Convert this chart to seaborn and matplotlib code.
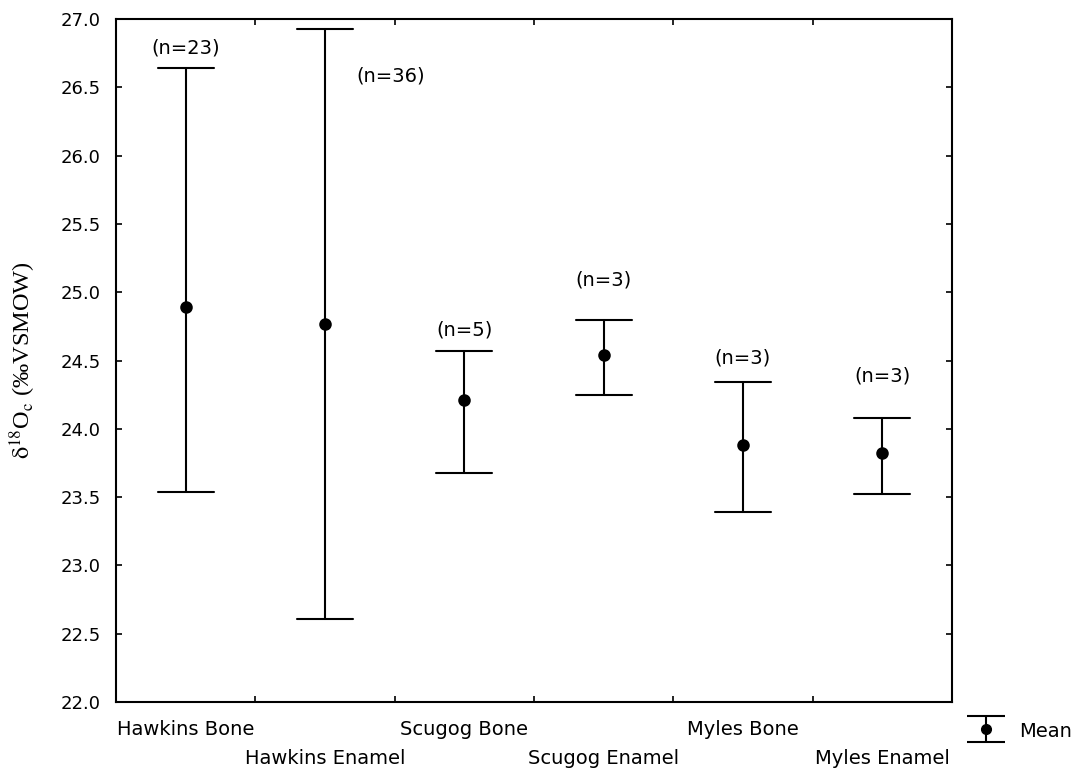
import numpy as np
import pandas as pd
import matplotlib
matplotlib.use('Agg')
import matplotlib.pyplot as plt
from matplotlib.container import ErrorbarContainer
from matplotlib.legend_handler import HandlerErrorbar
import seaborn as sns

# values
groups = ['Hawkins Bone', 'Hawkins Enamel', 'Scugog Bone',
          'Scugog Enamel', 'Myles Bone', 'Myles Enamel']
means = [24.89, 24.77, 24.21, 24.54, 23.88, 23.82]
lower = [23.535, 22.61, 23.68, 24.25, 23.39, 23.52]
upper = [26.64, 26.93, 24.57, 24.80, 24.345, 24.08]
n_text = ['(n=23)', '(n=36)', '(n=5)', '(n=3)', '(n=3)', '(n=3)']
# where the n labels sit (category offset, y value)
n_dx = [0, 0.47, 0, 0, 0, 0]
n_y = [26.79, 26.58, 24.72, 25.09, 24.52, 24.39]

# long form: low / mean / high per group -> median gives mean, min/max gives the bar
df = pd.DataFrame({
    'group': np.repeat(groups, 3),
    'd18O': np.column_stack([lower, means, upper]).ravel(),
})

sns.set_style('ticks')
plt.rcParams['font.family'] = ['DejaVu Sans']
plt.rcParams['mathtext.fontset'] = 'stix'
plt.rcParams['text.color'] = 'black'
plt.rcParams['axes.labelcolor'] = 'black'
plt.rcParams['xtick.color'] = 'black'
plt.rcParams['ytick.color'] = 'black'

fig = plt.figure(figsize=(10.91, 7.79), dpi=100)
ax = fig.add_axes([116/1091, 1 - 702/779, 836/1091, 683/779])

sns.pointplot(data=df, x='group', y='d18O', order=groups,
              estimator='median', errorbar=lambda v: (v.min(), v.max()),
              color='black', linestyle='none', markersize=7,
              capsize=0.4, err_kws={'linewidth': 1.5}, ax=ax)

for i, t in enumerate(n_text):
    ax.text(i + n_dx[i], n_y[i], t, ha='center', va='center', fontsize=14)

ax.set_xlim(-0.5, len(groups) - 0.5)
ax.set_ylim(22.0, 27.0)
ax.set_yticks(np.arange(22.0, 27.01, 0.5))
ax.set_yticklabels(['%.1f' % v for v in np.arange(22.0, 27.01, 0.5)], fontsize=13)

# ticks at the boundaries, staggered labels at the centres
ax.set_xticks(np.arange(0.5, len(groups) - 1, 1.0))
ax.set_xticklabels([])
ax.set_xticks(range(len(groups)), minor=True)
ax.set_xticklabels([g if i % 2 == 0 else '\n' + g for i, g in enumerate(groups)],
                   minor=True, fontsize=14)
for t in ax.get_xticklabels(minor=True):
    t.set_linespacing(1.65)
ax.tick_params(axis='x', which='minor', length=0, pad=13)
ax.tick_params(axis='both', which='major', direction='in', length=4, width=1.2,
               top=True, right=True)
ax.tick_params(axis='y', pad=11)
ax.set_xlabel('')

for s in ax.spines.values():
    s.set_visible(True)
    s.set_linewidth(1.5)
    s.set_color('black')

ax.set_ylabel(r'$\mathrm{\delta}^{18}$O$_\mathrm{c}$ (‰VSMOW)', fontsize=17.5,
              family='Liberation Serif')
ax.yaxis.set_label_coords(-0.093, 0.5)

# legend symbol: mean with bar
h = ax.errorbar([0], [np.nan], yerr=[0.1], fmt='o', color='black', markersize=7,
                capsize=13.5, elinewidth=1.5, capthick=1.5)
ax.legend([h], ['Mean'], loc='center left', bbox_to_anchor=(967/1091, 1 - 731/779),
          bbox_transform=fig.transFigure, frameon=False, fontsize=14,
          handlelength=2.0, handleheight=1.4, handletextpad=0.7,
          borderpad=0, borderaxespad=0,
          handler_map={ErrorbarContainer: HandlerErrorbar(xerr_size=0.67)})

plt.savefig('out.png', dpi=100)
